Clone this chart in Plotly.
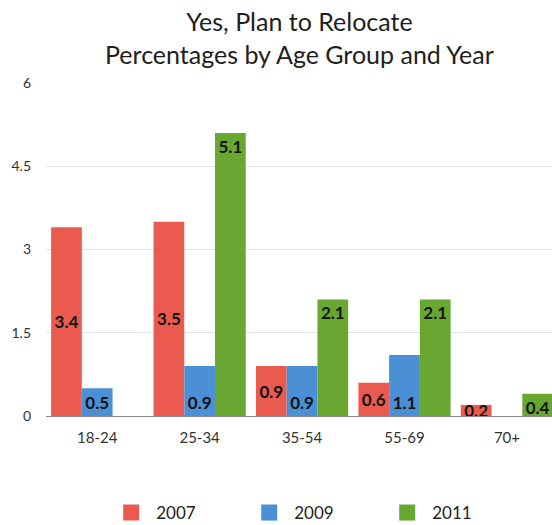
import plotly.graph_objects as go

# Age groups and survey results (% planning to relocate)
age_groups = ["18-24", "25-34", "35-54", "55-69", "70+"]
years = ["2007", "2009", "2011"]
pct_2007 = [3.4, 3.5, 0.9, 0.6, 0.2]
pct_2009 = [0.5, 0.9, 0.9, 1.1, None]
pct_2011 = [None, 5.1, 2.1, 2.1, 0.4]
y_ticks = [0, 1.5, 3, 4.5, 6]
y_tick_labels = ["0", "1.5", "3", "4.5", "6"]
title_lines = ["Yes, Plan to Relocate", "Percentages by Age Group and Year"]

colors = ["#ea5a4f", "#4b8fd4", "#68a731"]
label_anchor = ["middle", "start", "end"]
series = [pct_2007, pct_2009, pct_2011]

FONT = "Lato"

fig = go.Figure()

for name, vals, col, anchor in zip(years, series, colors, label_anchor):
    fig.add_trace(go.Bar(
        x=age_groups,
        y=vals,
        name=name,
        marker=dict(color=col, line=dict(width=0)),
        text=[f"{v:.1f}" if v is not None else "" for v in vals],
        textposition="inside",
        insidetextanchor=anchor,
        textangle=0,
        insidetextfont=dict(family=FONT, size=17, color="#141414", weight="bold"),
        showlegend=False,
        legendgroup=name,
        hoverinfo="skip",
    ))

# legend entries with larger square swatches
for name, col in zip(years, colors):
    fig.add_trace(go.Scatter(
        x=[None], y=[None], mode="markers", name=name, legendgroup=name,
        marker=dict(symbol="square", size=16, color=col),
        showlegend=True,
    ))

# two-line heading, centred over the plotting area
fig.add_annotation(
    text="<br>".join(title_lines), xref="paper", yref="paper", x=0.5, y=1.137,
    xanchor="center", yanchor="middle", showarrow=False,
    font=dict(family=FONT, size=25, color="#1e1e1e"),
)

fig.update_layout(
    width=552,
    height=525,
    margin=dict(l=46, r=0, t=83, b=109),
    paper_bgcolor="white",
    plot_bgcolor="white",
    barmode="group",
    bargap=0.1,
    bargroupgap=0,
    uniformtext=dict(minsize=17, mode="show"),
    font=dict(family=FONT, color="#222222"),
    legend=dict(
        orientation="h",
        x=0.119,
        xanchor="left",
        y=1 - 513 / 525,
        yref="container",
        yanchor="middle",
        font=dict(family=FONT, size=17, color="#222222"),
        itemwidth=40,
        entrywidth=83,
        entrywidthmode="pixels",
        bgcolor="rgba(0,0,0,0)",
    ),
    xaxis=dict(
        type="category",
        range=[-0.5, 4.44],
        showgrid=False,
        showline=True,
        linecolor="#8a8a8a",
        linewidth=1,
        ticks="",
        ticklabelstandoff=8,
        tickfont=dict(family=FONT, size=15, color="#333333"),
        fixedrange=True,
    ),
    yaxis=dict(
        range=[0, 6],
        tickvals=y_ticks,
        ticktext=y_tick_labels,
        showgrid=True,
        gridcolor="#e2e2e2",
        gridwidth=1,
        zeroline=False,
        showline=False,
        ticks="",
        ticklabelstandoff=14,
        tickfont=dict(family=FONT, size=14, color="#333333"),
        fixedrange=True,
    ),
)

fig.write_html("out.html")
